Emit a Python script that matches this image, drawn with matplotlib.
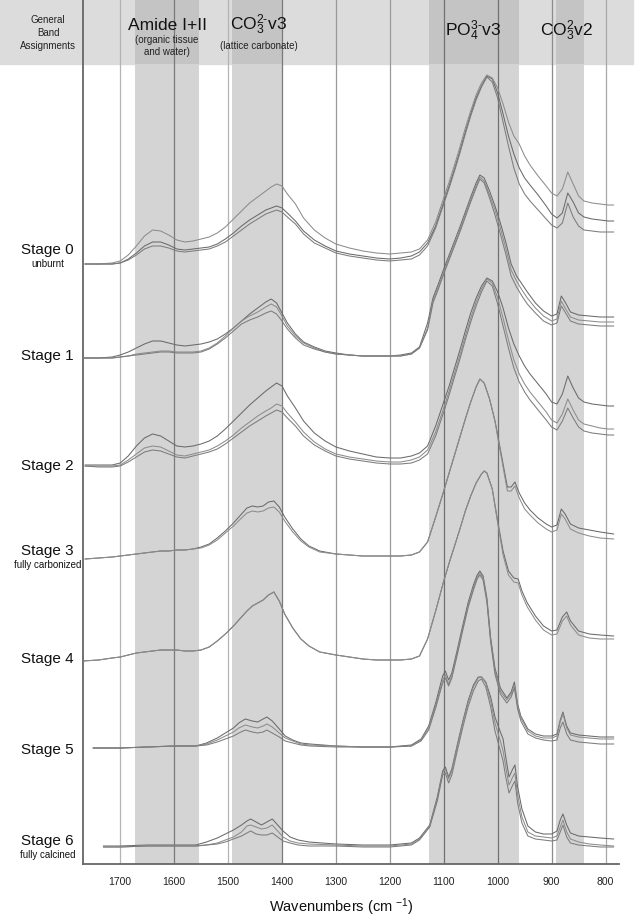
import numpy as np
import matplotlib
matplotlib.use('agg')
import matplotlib.pyplot as plt
from matplotlib.patches import Rectangle

plt.rcParams['font.family'] = ['Liberation Sans', 'DejaVu Sans']
plt.rcParams['mathtext.fontset'] = 'custom'
plt.rcParams['mathtext.rm'] = 'Liberation Sans'
plt.rcParams['mathtext.it'] = 'Liberation Sans:italic'

# ---- data: band heights (px above each stage baseline)
# columns: wavenumber, then one column per replicate spectrum
s0 = np.array([
    [1765, 0, 0, 0], [1740, 0, 0, 0], [1715, 0, 1, 0], [1700, 1, 3, 1],
    [1685, 5, 9, 4], [1670, 11, 18, 9], [1655, 18, 28, 15], [1640, 22, 34, 18],
    [1625, 22, 33, 18], [1610, 19, 29, 16], [1595, 15, 24, 13], [1580, 14, 22, 12],
    [1565, 15, 23, 13], [1550, 16, 25, 14], [1535, 17, 27, 15], [1520, 20, 31, 18],
    [1505, 25, 37, 22], [1490, 31, 45, 28], [1475, 38, 53, 34], [1460, 44, 61, 40],
    [1445, 49, 67, 45], [1430, 54, 73, 50], [1420, 56, 77, 52], [1410, 58, 80, 54],
    [1400, 56, 78, 52], [1390, 51, 70, 47], [1375, 43, 60, 40], [1360, 33, 46, 30],
    [1340, 24, 34, 21], [1320, 18, 26, 16], [1300, 13, 20, 11], [1275, 10, 16, 8],
    [1250, 8, 13, 6], [1225, 6, 11, 4], [1200, 5, 10, 3], [1180, 6, 11, 4],
    [1160, 8, 12, 5], [1145, 12, 15, 9], [1130, 21, 24, 18], [1115, 38, 42, 36],
    [1100, 62, 66, 60], [1090, 78, 82, 76], [1080, 95, 99, 93], [1070, 113, 117, 111],
    [1060, 132, 136, 130], [1050, 150, 153, 148], [1040, 166, 169, 164], [1030, 178, 181, 177],
    [1020, 188, 189, 187], [1010, 185, 186, 182], [1000, 171, 176, 166], [990, 150, 160, 142],
    [980, 128, 142, 118], [970, 110, 128, 96], [960, 96, 120, 80], [950, 86, 108, 70],
    [940, 79, 99, 63], [925, 69, 88, 54], [910, 58, 78, 45], [900, 50, 71, 39],
    [890, 46, 68, 36], [880, 51, 75, 41], [870, 71, 92, 61], [860, 62, 80, 47],
    [850, 51, 68, 38], [840, 47, 63, 34], [825, 45, 61, 33], [810, 44, 60, 32],
    [795, 43, 59, 32], [785, 43, 59, 32],
])

s1 = np.array([
    [1770, 0, 0, 0], [1740, 0, 0, 0], [1715, 1, 0, 0], [1700, 3, 1, 1],
    [1685, 6, 2, 2], [1670, 10, 4, 3], [1655, 14, 5, 4], [1640, 17, 6, 5],
    [1625, 17, 7, 6], [1610, 15, 7, 6], [1595, 13, 6, 5], [1580, 12, 6, 5],
    [1565, 13, 6, 5], [1550, 14, 7, 6], [1535, 16, 10, 9], [1520, 19, 15, 14],
    [1505, 24, 22, 20], [1490, 30, 30, 27], [1475, 37, 37, 34], [1460, 44, 42, 38],
    [1445, 50, 46, 41], [1430, 56, 51, 45], [1420, 59, 54, 47], [1410, 55, 51, 44],
    [1400, 45, 42, 37], [1390, 35, 32, 29], [1375, 24, 22, 20], [1360, 16, 15, 13],
    [1340, 11, 10, 9], [1320, 7, 6, 6], [1300, 5, 4, 4], [1275, 3, 3, 3],
    [1250, 2, 2, 2], [1225, 2, 2, 2], [1200, 2, 2, 2], [1180, 3, 2, 2],
    [1160, 5, 4, 4], [1145, 11, 10, 10], [1130, 35, 30, 28], [1120, 60, 57, 55],
    [1110, 74, 71, 69], [1100, 89, 86, 84], [1090, 103, 100, 98], [1080, 117, 114, 112],
    [1070, 131, 128, 126], [1060, 146, 143, 141], [1050, 161, 158, 156], [1040, 175, 172, 170],
    [1033, 183, 181, 179], [1025, 180, 177, 175], [1015, 167, 163, 160], [1005, 152, 148, 143],
    [995, 135, 130, 124], [985, 116, 110, 104], [975, 94, 88, 82], [965, 82, 77, 71],
    [955, 74, 68, 62], [945, 66, 60, 54], [930, 55, 50, 45], [915, 47, 42, 37],
    [900, 42, 37, 33], [890, 44, 39, 35], [882, 62, 57, 52], [875, 56, 50, 46],
    [865, 46, 41, 37], [850, 43, 38, 34], [830, 42, 37, 33], [810, 41, 36, 32],
    [785, 41, 36, 32],
])

s2 = np.array([
    [1765, 1, 0, 0], [1740, 1, 0, -1], [1715, 1, 0, -1], [1700, 3, 1, 0],
    [1685, 10, 6, 4], [1670, 20, 12, 9], [1655, 28, 18, 14], [1640, 32, 20, 16],
    [1625, 30, 19, 15], [1610, 25, 15, 12], [1595, 20, 11, 9], [1580, 19, 10, 8],
    [1565, 20, 12, 10], [1550, 22, 14, 12], [1535, 25, 16, 14], [1520, 30, 20, 17],
    [1505, 37, 25, 22], [1490, 45, 31, 28], [1475, 53, 38, 34], [1460, 61, 44, 40],
    [1445, 68, 50, 45], [1430, 75, 55, 50], [1420, 79, 58, 53], [1410, 83, 62, 56],
    [1400, 80, 60, 54], [1390, 70, 53, 48], [1375, 58, 44, 40], [1360, 45, 34, 30],
    [1340, 33, 24, 21], [1320, 25, 17, 15], [1300, 19, 12, 10], [1275, 15, 9, 7],
    [1250, 12, 7, 5], [1225, 9, 5, 3], [1200, 8, 4, 2], [1180, 8, 4, 2],
    [1160, 10, 6, 3], [1145, 13, 9, 6], [1130, 20, 16, 12], [1115, 40, 34, 30],
    [1100, 64, 58, 54], [1090, 80, 75, 71], [1080, 98, 93, 89], [1070, 116, 111, 107],
    [1060, 135, 130, 126], [1050, 153, 148, 144], [1040, 168, 164, 160], [1030, 180, 177, 174],
    [1020, 188, 187, 185], [1010, 185, 183, 180], [1000, 174, 168, 162], [990, 158, 148, 140],
    [980, 138, 126, 118], [970, 122, 106, 98], [960, 110, 92, 84], [950, 100, 82, 74],
    [940, 92, 74, 66], [925, 82, 64, 56], [910, 72, 54, 46], [900, 64, 46, 39],
    [890, 62, 43, 36], [880, 72, 52, 45], [870, 90, 67, 58], [860, 78, 56, 48],
    [850, 68, 46, 39], [840, 64, 42, 35], [825, 62, 40, 33], [810, 61, 38, 32],
    [795, 60, 37, 31], [785, 60, 37, 31],
])

s3 = np.array([
    [1765, 0, 0], [1740, 1, 1], [1715, 2, 2], [1700, 3, 3], [1685, 4, 4],
    [1670, 5, 5], [1655, 6, 6], [1640, 7, 7], [1625, 8, 8], [1610, 8, 8],
    [1595, 9, 9], [1580, 9, 9], [1565, 10, 10], [1550, 12, 11], [1535, 15, 14],
    [1520, 21, 19], [1505, 28, 26], [1490, 36, 33], [1475, 45, 41], [1465, 51, 46],
    [1455, 53, 48], [1445, 52, 47], [1435, 53, 48], [1425, 57, 51], [1415, 58, 52],
    [1405, 52, 47], [1395, 42, 38], [1380, 30, 27], [1365, 20, 18], [1350, 13, 12],
    [1330, 8, 7], [1300, 5, 5], [1275, 4, 4], [1250, 3, 3], [1225, 3, 3],
    [1200, 3, 3], [1180, 3, 3], [1160, 4, 4], [1145, 7, 7], [1130, 17, 17],
    [1115, 42, 42], [1100, 68, 68], [1090, 86, 86], [1080, 104, 104], [1070, 122, 122],
    [1060, 140, 140], [1050, 157, 157], [1040, 172, 172], [1033, 180, 180], [1025, 176, 176],
    [1015, 160, 160], [1005, 138, 138], [1000, 124, 122], [990, 95, 92], [982, 72, 68],
    [975, 72, 68], [968, 77, 73], [960, 66, 61], [950, 56, 50], [940, 49, 44],
    [925, 41, 36], [910, 35, 30], [900, 32, 27], [890, 34, 29], [882, 50, 45],
    [875, 45, 40], [865, 35, 30], [850, 31, 26], [830, 29, 23], [810, 27, 21],
    [785, 25, 20],
])

s4 = np.array([
    [1770, 0, 0], [1740, 1, 1], [1715, 3, 3], [1700, 4, 4], [1685, 6, 6],
    [1670, 8, 8], [1655, 9, 9], [1640, 10, 10], [1625, 11, 11], [1610, 11, 11],
    [1595, 11, 11], [1580, 10, 10], [1565, 10, 10], [1550, 11, 11], [1535, 14, 14],
    [1520, 20, 20], [1505, 27, 27], [1490, 35, 35], [1475, 44, 44], [1465, 50, 50],
    [1455, 55, 55], [1445, 58, 58], [1435, 61, 61], [1425, 66, 66], [1415, 69, 69],
    [1405, 60, 60], [1395, 47, 47], [1380, 33, 33], [1365, 22, 22], [1350, 15, 15],
    [1330, 9, 9], [1300, 6, 6], [1275, 4, 4], [1250, 2, 2], [1225, 1, 1],
    [1200, 1, 1], [1180, 1, 1], [1160, 2, 2], [1145, 5, 5], [1130, 22, 22],
    [1115, 50, 50], [1100, 80, 80], [1090, 98, 98], [1080, 115, 115], [1070, 132, 132],
    [1060, 150, 150], [1050, 165, 165], [1040, 178, 178], [1030, 187, 187], [1025, 190, 190],
    [1020, 188, 188], [1010, 172, 172], [1000, 140, 138], [990, 110, 106], [980, 90, 86],
    [970, 83, 79], [962, 82, 78], [955, 70, 66], [945, 58, 54], [930, 45, 41],
    [915, 35, 31], [900, 30, 26], [890, 31, 27], [880, 44, 40], [872, 49, 45],
    [865, 40, 36], [850, 30, 26], [830, 27, 23], [810, 26, 22], [785, 25, 22],
])

s5 = np.array([
    [1750, 0, 0, 0], [1720, 0, 0, 0], [1700, 0, 0, 0], [1650, 1, 1, 1],
    [1600, 2, 2, 2], [1560, 2, 2, 2], [1540, 5, 4, 3], [1520, 10, 8, 6],
    [1505, 15, 12, 9], [1490, 20, 16, 12], [1480, 25, 20, 15], [1468, 29, 23, 18],
    [1455, 27, 21, 16], [1445, 26, 20, 15], [1435, 29, 22, 16], [1428, 31, 24, 18],
    [1418, 27, 21, 15], [1405, 19, 15, 11], [1394, 12, 10, 7], [1380, 8, 7, 5],
    [1365, 5, 4, 3], [1348, 4, 3, 2], [1300, 2, 2, 1], [1250, 1, 1, 1],
    [1200, 1, 1, 1], [1160, 3, 2, 2], [1142, 9, 8, 7], [1128, 22, 20, 18],
    [1115, 45, 42, 40], [1102, 72, 68, 65], [1097, 77, 73, 70], [1091, 68, 64, 62],
    [1085, 75, 72, 70], [1075, 98, 95, 93], [1065, 122, 119, 117], [1055, 145, 142, 140],
    [1045, 163, 160, 158], [1038, 173, 171, 169], [1033, 177, 175, 173], [1027, 172, 170, 168],
    [1020, 150, 148, 146], [1013, 110, 108, 106], [1005, 80, 77, 74], [995, 60, 57, 54],
    [983, 50, 48, 45], [975, 56, 54, 51], [969, 66, 63, 60], [963, 44, 42, 39],
    [957, 32, 30, 27], [944, 19, 17, 14], [930, 14, 12, 10], [915, 12, 10, 8],
    [900, 12, 10, 7], [890, 14, 12, 8], [884, 28, 26, 20], [879, 36, 34, 26],
    [872, 22, 20, 14], [865, 15, 13, 8], [850, 13, 11, 6], [830, 12, 10, 5],
    [810, 11, 9, 4], [785, 11, 9, 4],
])

s6 = np.array([
    [1731, 1, 0, 0], [1700, 1, 0, 0], [1650, 2, 1, 1], [1600, 2, 1, 1],
    [1560, 2, 1, 1], [1540, 5, 2, 2], [1520, 9, 4, 3], [1505, 13, 7, 5],
    [1490, 17, 10, 8], [1475, 22, 15, 11], [1465, 26, 21, 14], [1458, 28, 22, 16],
    [1448, 25, 20, 13], [1438, 22, 18, 12], [1428, 25, 19, 12], [1418, 28, 22, 14],
    [1408, 22, 16, 10], [1398, 16, 10, 6], [1385, 10, 6, 4], [1370, 7, 4, 2],
    [1350, 5, 3, 1], [1300, 3, 2, 1], [1250, 2, 1, 0], [1200, 2, 1, 0],
    [1160, 4, 3, 2], [1145, 9, 8, 7], [1126, 22, 21, 20], [1112, 50, 48, 46],
    [1102, 76, 74, 72], [1097, 80, 78, 74], [1091, 70, 68, 64], [1085, 78, 76, 72],
    [1075, 102, 100, 96], [1065, 125, 123, 119], [1055, 146, 144, 140], [1045, 162, 160, 156],
    [1036, 170, 169, 166], [1030, 170, 170, 168], [1022, 165, 164, 160], [1013, 150, 146, 140],
    [1005, 130, 124, 116], [995, 115, 106, 96], [990, 108, 96, 86], [985, 90, 80, 70],
    [979, 70, 62, 54], [972, 78, 70, 62], [968, 82, 74, 66], [963, 60, 52, 44],
    [955, 38, 30, 24], [944, 21, 15, 11], [930, 15, 11, 8], [915, 13, 10, 7],
    [900, 13, 9, 6], [890, 16, 11, 7], [884, 27, 20, 15], [879, 33, 27, 22],
    [872, 22, 15, 10], [865, 14, 8, 4], [850, 11, 5, 2], [830, 10, 3, 1],
    [810, 9, 2, 0], [785, 8, 1, 0],
])

stages = [s0, s1, s2, s3, s4, s5, s6]
stage_names = ['Stage 0', 'Stage 1', 'Stage 2', 'Stage 3', 'Stage 4', 'Stage 5', 'Stage 6']
stage_notes = ['unburnt', '', '', 'fully carbonized', '', '', 'fully calcined']

band_ranges = [(1672, 1553), (1492, 1400), (1128, 961), (892, 840)]
band_titles = ['Amide I+II', r'CO$_3^{2\text{-}}$v3', r'PO$_4^{3\text{-}}$v3', r'CO$_3^{2}$v2']
band_notes = ['(organic tissue\nand water)', '(lattice carbonate)', '', '']

ticks = [1700, 1600, 1500, 1400, 1300, 1200, 1100, 1000, 900, 800]
tick_line_colors = ['#b4b4b4', '#7a7a7a', '#b4b4b4', '#7a7a7a', '#9a9a9a',
                    '#9a9a9a', '#707070', '#707070', '#8c8c8c', '#a8a8a8']

# ---- layout (in pixels of a 641 x 920 figure)
W, H = 641, 920
baselines = [265, 359, 467, 560, 662, 749, 848]
label_y = [250, 356, 466, 551, 659, 750, 841]
bottom_px = 865
header_px = 65

fig = plt.figure(figsize=(W / 100, H / 100), dpi=100)
fig.patches.append(Rectangle((0, 1 - header_px / H), 633 / W, header_px / H,
                             transform=fig.transFigure, color='#dcdcdc', zorder=-5))

ax = fig.add_axes([83 / W, (H - bottom_px) / H, 536 / W, bottom_px / H])
ax.patch.set_alpha(0)
ax.set_xlim(1769, 775)
ax.set_ylim(0, bottom_px)

hfrac = (bottom_px - header_px) / bottom_px
for lo, hi in band_ranges:
    ax.axvspan(hi, lo, ymin=0, ymax=hfrac, color='#d4d4d4', lw=0, zorder=0)
    ax.axvspan(hi, lo, ymin=hfrac, ymax=1, color='#c4c4c4', lw=0, zorder=0)

for t, c in zip(ticks, tick_line_colors):
    ax.axvline(t, color=c, lw=0.9, zorder=1)

curve_colors = ['#6a6a6a', '#8c8c8c', '#7c7c7c']
for data, base in zip(stages, baselines):
    off = bottom_px - base
    wn = data[:, 0]
    for k in range(1, data.shape[1]):
        ax.plot(wn, data[:, k] + off, color=curve_colors[(k - 1) % 3], lw=0.75, zorder=3)

for sp in ['top', 'right']:
    ax.spines[sp].set_visible(False)
for sp in ['left', 'bottom']:
    ax.spines[sp].set_color('#666666')
    ax.spines[sp].set_linewidth(1.3)

ax.set_yticks([])
ax.set_xticks(ticks)
ax.tick_params(axis='x', length=0, pad=9, labelsize=7.5, labelcolor='#222222')

fig.text(341 / W, 1 - 907 / H, 'Wavenumbers (cm $^{-1}$)', ha='center', va='center',
         fontsize=10.5, color='#111111')

# stage labels
for name, note, y in zip(stage_names, stage_notes, label_y):
    fig.text(47 / W, 1 - y / H, name, ha='center', va='center', fontsize=11, color='#111111')
    if note:
        fig.text(48 / W, 1 - (y + 14) / H, note, ha='center', va='center', fontsize=7,
                 color='#111111')

# header texts
fig.text(48 / W, 1 - 33 / H, 'General\nBand\nAssignments', ha='center', va='center',
         fontsize=7, linespacing=1.35, color='#222222')
title_x = [167, 259, 473, 566]
title_y = [25, 25, 31, 31]
for t, n, x, y in zip(band_titles, band_notes, title_x, title_y):
    fig.text(x / W, 1 - y / H, t, ha='center', va='center', fontsize=12.5, color='#111111')
    if n:
        fig.text(x / W, 1 - (y + 21) / H, n, ha='center', va='center', fontsize=7,
                 linespacing=1.3, color='#222222')

fig.savefig('out.png', dpi=100)
